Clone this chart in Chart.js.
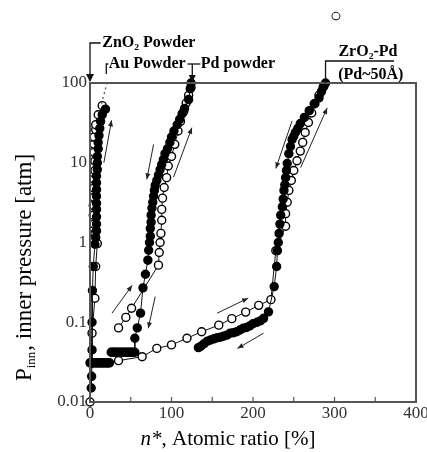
<!DOCTYPE html>
<html><head><meta charset="utf-8">
<script src="https://cdn.jsdelivr.net/npm/chart.js@4.4.1/dist/chart.umd.min.js"></script>
<style>html,body{margin:0;padding:0;background:#fff;}canvas{display:block;}</style>
</head><body>
<canvas id="c" width="427" height="452"></canvas>
<script>
// ---- axis ticks ----
const yTicks=[0.01,0.1,1,10,100];
const yTickLabels=['0.01','0.1','1','10','100'];
const xTicks=[0,100,200,300,400];
const xTickLabels=['0','100','200','300','400'];
const xMinorTicks=[50,100,150,200,250,300,350];

// ---- ZnO2 / Au powder ----
const znClosedX=[19,15,13,12,11,10,10,9,9,9,8,8,8,8,8,8,8,8,8,7,6,4,3,2.5,2.5,2.5,2,1.5];
const znClosedY=[47,40,33,27,22,18,15,12,10,8.2,6.8,5.6,4.6,3.8,3.1,2.6,2.1,1.7,1.4,1.15,0.95,0.5,0.25,0.1,0.045,0.031,0.021,0.015];
const znOpenX=[0,2.5,6,7,9,6,5,4,4,5,5,5,6,6,5,5,5,7,7,10,15];
const znOpenY=[0.01,0.073,0.2,0.5,0.97,1.3,1.7,2.2,2.9,3.7,4.8,6.2,8,10.5,13.5,17,21,26,30,40,52];
const znDottedX=[14,21];
const znDottedY=[55,100];
const baseBarX=[0,1.5,3,4.5,6,7.5,9,10.5,12,13.5,15,16.5,18,19.5,21,22.5,24];
const baseBarY=[0.031,0.031,0.031,0.031,0.031,0.031,0.031,0.031,0.031,0.031,0.031,0.031,0.031,0.031,0.031,0.031,0.031];

// ---- Pd powder ----
const pdClosedX=[124,123,121,116,113,110,107,103,100,98,95,92,90,88,86,84,82,80,79,78,77,76,75,75,74,74,73,72,71,68,65,62,58,55,55,53,51,49,47,45,43,41,39,37,35,33,31,29,27,26];
const pdClosedY=[100,85,62,48,41,35,30,25,21,18,15,13,11,9.5,8.2,7,6,5.2,4.5,3.8,3.2,2.7,2.2,1.8,1.5,1.2,1.0,0.8,0.6,0.4,0.27,0.13,0.085,0.063,0.042,0.042,0.042,0.042,0.042,0.042,0.042,0.042,0.042,0.042,0.042,0.042,0.042,0.042,0.042,0.042];
const pdOpenX=[35,44,51,84,85,86,87,88,88,89,91,94,96,100,104,108,111,115,118,121,124];
const pdOpenY=[0.085,0.115,0.15,0.52,0.75,1.0,1.3,1.9,2.6,3.6,4.9,6.5,9.1,12,17,25,33,44,56,70,88];

// ---- ZrO2-Pd ----
const zrClosedX=[289,287,284,281,275,269,263,258,255,252,250,248,246,244,242,241,240,239,238,237,236,234,233,232,231,230,229,226,219,213,209,205,200,196,192,188,184,180,176,172,168,164,160,156,152,148,144,140,136,133];
const zrClosedY=[100,92,78,65,55,45,37,31,27,24,21.5,19.6,16,13,9.8,8,6.5,5.3,4.5,3.5,2.8,2.2,1.7,1.3,1.0,0.79,0.5,0.28,0.135,0.112,0.104,0.1,0.096,0.09,0.086,0.084,0.08,0.076,0.074,0.073,0.069,0.067,0.065,0.064,0.062,0.06,0.058,0.054,0.05,0.048];
const zrOpenX=[35,64,82,100,119,137,158,174,191,207,222,228,240,240,242,244,247,250,254,258,261,264,268,272,276,281,286];
const zrOpenY=[0.033,0.037,0.047,0.052,0.063,0.076,0.092,0.111,0.134,0.163,0.192,0.79,1.6,2.3,3.2,4.5,6,8,10.6,14,18,24,32,42,55,70,88];

// ---- direction arrows (data units: x1,y1 -> x2,y2) ----
const arrowX1=[17,78,102.5,27,80,156,213,248,258.5];
const arrowY1=[10,17,6.6,0.13,0.21,0.13,0.073,33.5,8.7];
const arrowX2=[26.5,69.7,125,51.7,71.5,194,181,228,291];
const arrowY2=[34,6.2,27.5,0.29,0.084,0.2,0.047,8.5,48.7];

// ---- labels above the plot (x in data units, dy = px above plot top) ----
const labelTexts=['ZnO₂ Powder','Au Powder','Pd powder','ZrO₂-Pd','(Pd~50Å)','○'];
const labelX=[15,23,136,341,344.6,301.5];
const labelDy=[-40,-19,-19,-31,-8,-66];
const labelAlign=['left','left','left','center','center','center'];

function pts(xs,ys){return xs.map((x,i)=>({x:x,y:ys[i]}));}
function ds(xs,ys,filled,extra){
  return Object.assign({data:pts(xs,ys),showLine:true,borderColor:'#111',borderWidth:1,
    pointRadius:4,pointHoverRadius:4,pointBackgroundColor:filled?'#000':'#fff',
    pointBorderColor:'#000',pointBorderWidth:1.4,clip:false},extra||{});
}

const SERIF='"Liberation Serif","Times New Roman",serif';

function arrowHead(ctx,x1,y1,x2,y2,len,w){
  const a=Math.atan2(y2-y1,x2-x1);
  ctx.beginPath();
  ctx.moveTo(x2,y2);
  ctx.lineTo(x2-len*Math.cos(a)+w*Math.sin(a),y2-len*Math.sin(a)-w*Math.cos(a));
  ctx.lineTo(x2-len*Math.cos(a)-w*Math.sin(a),y2-len*Math.sin(a)+w*Math.cos(a));
  ctx.closePath();ctx.fill();
}

const decor={
  id:'decor',
  afterDraw(chart){
    const ctx=chart.ctx, ca=chart.chartArea, xs=chart.scales.x, ys=chart.scales.y;
    ctx.save();
    // frame
    ctx.strokeStyle='#555';ctx.lineWidth=2;
    ctx.strokeRect(ca.left,ca.top,ca.right-ca.left,ca.bottom-ca.top);
    // inner minor ticks
    ctx.lineWidth=1.2;
    xMinorTicks.forEach(v=>{const px=xs.getPixelForValue(v);
      ctx.beginPath();ctx.moveTo(px,ca.bottom);ctx.lineTo(px,ca.bottom-5);ctx.stroke();});
    // x tick labels
    ctx.fillStyle='#333';ctx.font='17px '+SERIF;ctx.textAlign='center';ctx.textBaseline='middle';
    xTicks.forEach((v,i)=>{ctx.fillText(xTickLabels[i],xs.getPixelForValue(v),ca.bottom+12);});
    // arrows
    ctx.strokeStyle='#222';ctx.fillStyle='#222';ctx.lineWidth=1;
    arrowX1.forEach((v,i)=>{
      const x1=xs.getPixelForValue(v),y1=ys.getPixelForValue(arrowY1[i]);
      const x2=xs.getPixelForValue(arrowX2[i]),y2=ys.getPixelForValue(arrowY2[i]);
      ctx.beginPath();ctx.moveTo(x1,y1);ctx.lineTo(x2,y2);ctx.stroke();
      arrowHead(ctx,x1,y1,x2,y2,6,2.5);
    });
    // labels above
    ctx.fillStyle='#000';ctx.textBaseline='middle';
    labelTexts.forEach((t,i)=>{
      ctx.font=(t==='○'?'bold 20px ':'bold 16px ')+SERIF;
      ctx.textAlign=labelAlign[i];
      ctx.fillText(t,xs.getPixelForValue(labelX[i]),ca.top+labelDy[i]);
    });
    // brackets
    ctx.strokeStyle='#111';ctx.fillStyle='#111';ctx.lineWidth=1.3;
    const X=v=>xs.getPixelForValue(v), T=d=>ca.top+d;
    ctx.beginPath();ctx.moveTo(X(13),T(-40));ctx.lineTo(X(0),T(-40));ctx.lineTo(X(0),T(-2));ctx.stroke();
    arrowHead(ctx,X(0),T(-20),X(0),T(-1),8,4);
    ctx.beginPath();ctx.moveTo(X(22.5),T(-19));ctx.lineTo(X(20),T(-19));ctx.lineTo(X(20),T(-9));ctx.stroke();
    ctx.beginPath();ctx.moveTo(X(119.5),T(-19));ctx.lineTo(X(135.5),T(-19));ctx.stroke();
    ctx.beginPath();ctx.moveTo(X(125.5),T(-19));ctx.lineTo(X(125.5),T(-2));ctx.stroke();
    arrowHead(ctx,X(125.5),T(-15),X(125.5),T(-1),7,3.5);
    ctx.beginPath();ctx.moveTo(X(289),T(0));ctx.lineTo(X(289),T(-22));ctx.lineTo(X(373),T(-22));ctx.stroke();
    // axis titles
    ctx.fillStyle='#000';ctx.textBaseline='alphabetic';ctx.textAlign='left';
    ctx.font='italic 21px '+SERIF; const a1='n*'; const w1=ctx.measureText(a1).width;
    ctx.font='21px '+SERIF; const a2=', Atomic ratio [%]'; const w2=ctx.measureText(a2).width;
    let sx=228-(w1+w2)/2;
    ctx.font='italic 21px '+SERIF; ctx.fillText(a1,sx,445);
    ctx.font='21px '+SERIF; ctx.fillText(a2,sx+w1,445);
    ctx.translate(31,268);ctx.rotate(-Math.PI/2);
    ctx.font='23px '+SERIF; const b1='P'; const wb1=ctx.measureText(b1).width;
    ctx.font='13px '+SERIF; const b2='inn'; const wb2=ctx.measureText(b2).width;
    ctx.font='23px '+SERIF; const b3=', inner pressure [atm]'; const wb3=ctx.measureText(b3).width;
    let sy=-(wb1+wb2+wb3)/2;
    ctx.font='23px '+SERIF; ctx.fillText(b1,sy,0);
    ctx.font='13px '+SERIF; ctx.fillText(b2,sy+wb1,4);
    ctx.font='23px '+SERIF; ctx.fillText(b3,sy+wb1+wb2+1,0);
    ctx.restore();
  }
};

new Chart(document.getElementById('c'),{
  type:'scatter',
  data:{datasets:[
    ds(znDottedX,znDottedY,false,{pointRadius:0,borderDash:[2,3],borderColor:'#555',borderWidth:1.3}),
    ds(baseBarX,baseBarY,true,{showLine:false}),
    ds(znClosedX,znClosedY,true),
    ds(znOpenX,znOpenY,false),
    ds(pdClosedX,pdClosedY,true),
    ds(pdOpenX,pdOpenY,false),
    ds(zrClosedX,zrClosedY,true),
    ds(zrOpenX,zrOpenY,false)
  ]},
  options:{
    responsive:false,animation:false,devicePixelRatio:1,
    layout:{padding:{top:83,right:11,left:0,bottom:0}},
    plugins:{legend:{display:false},tooltip:{enabled:false}},
    scales:{
      x:{type:'linear',min:0,max:400,
        afterBuildTicks:s=>{s.ticks=xTicks.map(v=>({value:v}));},
        afterFit:s=>{s.height=50;},
        grid:{display:false,drawTicks:false},border:{display:false},
        ticks:{display:false}},
      y:{type:'logarithmic',min:0.01,max:100,
        afterBuildTicks:s=>{s.ticks=yTicks.map(v=>({value:v}));},
        afterFit:s=>{s.width=90;},
        grid:{display:false,drawTicks:false},border:{display:false},
        ticks:{padding:3,color:'#333',font:{family:SERIF,size:17},
          callback:v=>{const i=yTicks.findIndex(t=>Math.abs(t-v)/t<1e-6);return i>=0?yTickLabels[i]:'';}}}
    }
  },
  plugins:[decor]
});
</script>
</body></html>
